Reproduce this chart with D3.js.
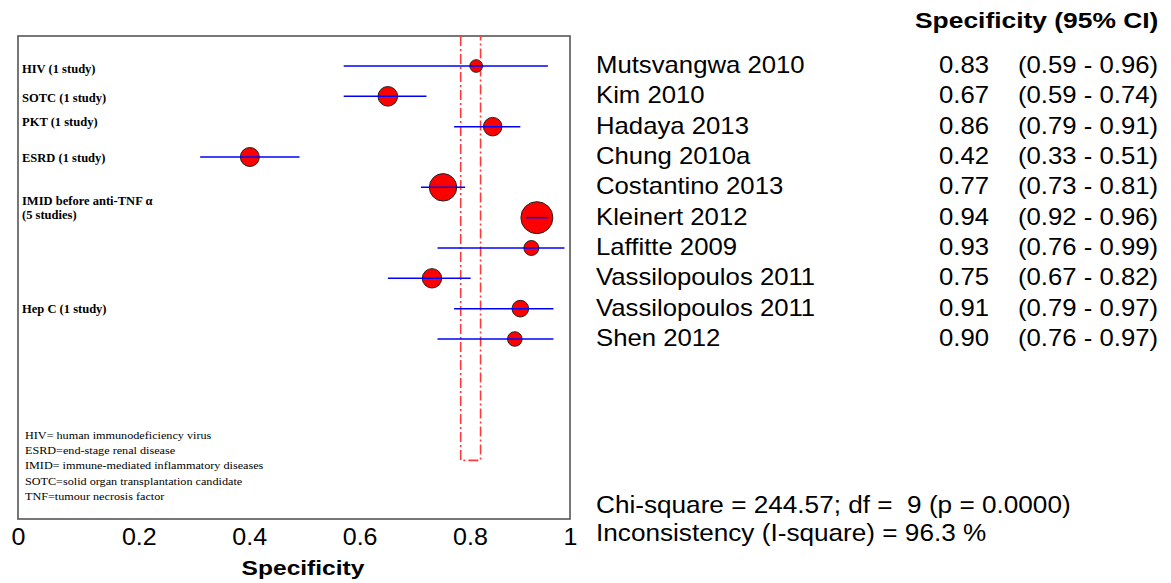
<!DOCTYPE html>
<html>
<head>
<meta charset="utf-8">
<script src="https://cdn.jsdelivr.net/npm/d3@7"></script>
<style>
  body { margin: 0; background: #fff; }
  svg { display: block; }
  text { white-space: pre; }
</style>
</head>
<body>
<svg id="chart" width="1171" height="583"></svg>
<script>
// Per-study specificity with 95% confidence interval
const studies = ["Mutsvangwa 2010", "Kim 2010", "Hadaya 2013", "Chung 2010a", "Costantino 2013",
                 "Kleinert 2012", "Laffitte 2009", "Vassilopoulos 2011", "Vassilopoulos 2011", "Shen 2012"];
const specificity = [0.83, 0.67, 0.86, 0.42, 0.77, 0.94, 0.93, 0.75, 0.91, 0.90];
const ciLower = [0.59, 0.59, 0.79, 0.33, 0.73, 0.92, 0.76, 0.67, 0.79, 0.76];
const ciUpper = [0.96, 0.74, 0.91, 0.51, 0.81, 0.96, 0.99, 0.82, 0.97, 0.97];
// Relative study weights (marker area)
const weights = [40, 96, 86, 90, 188, 256, 56, 94, 69, 53];

// Pooled confidence band
const pooledLower = 0.802;
const pooledUpper = 0.838;

// Subgroup captions, anchored to a (fractional) study row
const groupNames = ["HIV (1 study)", "SOTC (1 study)", "PKT (1 study)", "ESRD (1 study)",
                    "IMID before anti-TNF \u03b1\n(5 studies)", "Hep C (1 study)"];
const groupRows = [0.11, 1.04, 1.85, 3.02, 4.45, 8];

const abbreviations = [
  "HIV= human immunodeficiency virus",
  "ESRD=end-stage renal disease",
  "IMID= immune-mediated inflammatory diseases",
  "SOTC=solid organ transplantation candidate",
  "TNF=tumour necrosis factor"
];

const tickValues = [0, 0.2, 0.4, 0.6, 0.8, 1];
const tickLabels = ["0", "0.2", "0.4", "0.6", "0.8", "1"];

const heterogeneity = [
  "Chi-square = 244.57; df =  9 (p = 0.0000)",
  "Inconsistency (I-square) = 96.3 %"
];

const svg = d3.select("#chart");
const SX = 1.09;               // horizontal text stretch
const sans = "Liberation Sans, Arial, sans-serif";
const serif = "Liberation Serif, Times New Roman, serif";

function label(sel, x, y, str, opt) {
  return sel.append("text")
    .attr("transform", `translate(${x},${y}) scale(${opt.sx || SX},1)`)
    .attr("xml:space", "preserve")
    .attr("font-family", opt.family || sans)
    .attr("font-size", opt.size)
    .attr("font-weight", opt.weight || "normal")
    .attr("text-anchor", opt.anchor || "start")
    .attr("fill", "#000")
    .text(str);
}

const plot = { left: 18, right: 570, top: 36, bottom: 519 };
const x = d3.scaleLinear().domain([0, 1]).range([plot.left, plot.right]);
const y = d3.scaleLinear().domain([0, 9]).range([66, 339]);
const r = d3.scaleSqrt().domain([0, 256]).range([0, 16]);

// Frame
svg.append("rect")
  .attr("x", plot.left).attr("y", plot.top)
  .attr("width", plot.right - plot.left).attr("height", plot.bottom - plot.top)
  .attr("fill", "none").attr("stroke", "#555").attr("stroke-width", 1.6);

// Pooled band (dash-dot)
const bandBottom = y(13);
svg.append("path")
  .attr("d", d3.line()([[x(pooledLower), plot.top], [x(pooledLower), bandBottom],
                        [x(pooledUpper), bandBottom], [x(pooledUpper), plot.top]]))
  .attr("fill", "none").attr("stroke", "#ff3a3a").attr("stroke-width", 1.6)
  .attr("stroke-dasharray", "10,3,2,3");

// Study markers
const idx = d3.range(studies.length);
svg.append("g").selectAll("circle").data(idx).join("circle")
  .attr("cx", i => x(specificity[i])).attr("cy", i => y(i))
  .attr("r", i => r(weights[i]))
  .attr("fill", "#ff0000").attr("stroke", "#222").attr("stroke-width", 1);

// Confidence intervals
svg.append("g").selectAll("line").data(idx).join("line")
  .attr("x1", i => x(ciLower[i])).attr("x2", i => x(ciUpper[i]))
  .attr("y1", i => y(i)).attr("y2", i => y(i))
  .attr("stroke", "#0000ff").attr("stroke-width", 1.5);

// Subgroup captions
const gg = svg.append("g");
groupNames.forEach((name, k) => {
  name.split("\n").forEach((ln, j) => {
    label(gg, 22, y(groupRows[k]) + 4 + j * 14, ln, { family: serif, size: 11.5, weight: "bold" });
  });
});

// Abbreviations
const ag = svg.append("g");
abbreviations.forEach((ln, j) => {
  label(ag, 25, 439 + j * 15.2, ln, { family: serif, size: 10.5, sx: 1.16 });
});

// X axis labels
const axis = d3.axisBottom(x).tickValues(tickValues).tickSize(0)
  .tickFormat((d, i) => tickLabels[i]);
const ax = svg.append("g").attr("transform", `translate(0,${plot.bottom})`).call(axis);
ax.select(".domain").remove();
ax.selectAll("text")
  .attr("font-family", sans).attr("font-size", 23).attr("fill", "#000")
  .attr("text-anchor", "start")
  .attr("dy", null).attr("y", 0).attr("x", -7 / SX)
  .attr("transform", `translate(0,26) scale(${SX},1)`);

label(svg, x(0.5) + 9, 575, "Specificity", { size: 21, weight: "bold", anchor: "middle", sx: 1.17 });

// Right-hand table
label(svg, 915, 28, "Specificity (95% CI)", { size: 22, weight: "bold", sx: 1.2 });
const tg = svg.append("g");
idx.forEach(i => {
  const by = y(i) + 7;
  label(tg, 596, by, studies[i], { size: 23.6 });
  label(tg, 939, by, specificity[i].toFixed(2), { size: 23.6 });
  label(tg, 1018, by, `(${ciLower[i].toFixed(2)} - ${ciUpper[i].toFixed(2)})`, { size: 23.6 });
});

heterogeneity.forEach((ln, j) => label(svg, 596, 513 + j * 28, ln, { size: 24 }));
</script>
</body>
</html>
